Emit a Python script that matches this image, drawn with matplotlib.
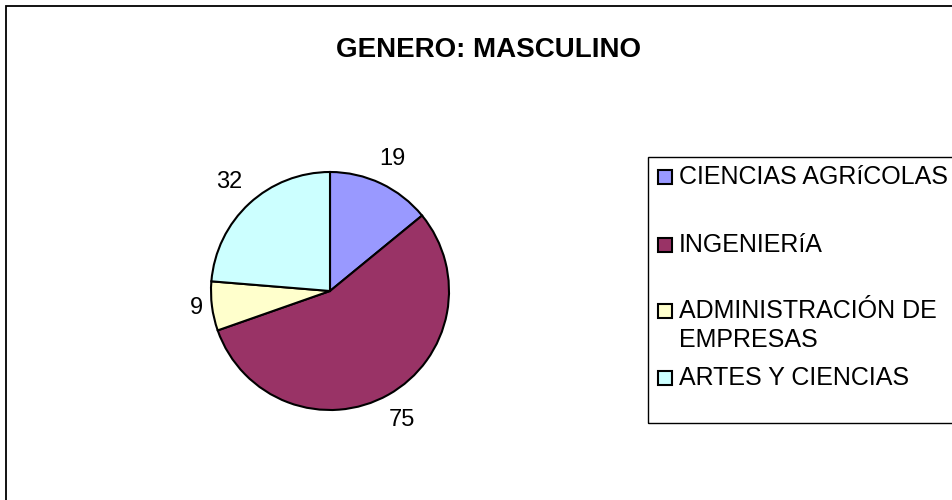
import numpy as np
import matplotlib.pyplot as plt
from matplotlib.patches import Rectangle

plt.rcParams['font.family'] = ['Liberation Sans', 'DejaVu Sans']

# data
title = 'GENERO: MASCULINO'
categories = ['CIENCIAS AGRíCOLAS', 'INGENIERíA', 'ADMINISTRACIÓN DE\nEMPRESAS', 'ARTES Y CIENCIAS']
values = [19, 75, 9, 32]
colors = ['#9999FF', '#993366', '#FFFFCC', '#CCFFFF']

W, H = 953, 500
fig = plt.figure(figsize=(W / 100, H / 100), dpi=100)


def fx(x):
    return x / W


def fy(y):
    return 1 - y / H


# outer chart frame (cut off at right and bottom)
fig.patches.append(Rectangle((fx(6), fy(510)), fx(970) - fx(6), fy(6) - fy(510),
                             transform=fig.transFigure, fill=False, lw=1.3, ec='black'))

fig.text(fx(489), fy(50), title, ha='center', va='center', fontsize=20, fontweight='bold')

# pie
cx, cy, R = 330, 291, 119
ax = fig.add_axes([fx(cx - 1.5 * R), fy(cy + 1.5 * R), 3 * R / W, 3 * R / H])
wedges, _ = ax.pie(values, colors=colors, startangle=90, counterclock=False,
                   wedgeprops=dict(edgecolor='black', linewidth=1.5))
ax.set_xlim(-1.5, 1.5)
ax.set_ylim(-1.5, 1.5)
ax.axis('off')

label_dist = [1.23, 1.24, 1.13, 1.25]
for w, v, d in zip(wedges, values, label_dist):
    ang = np.deg2rad((w.theta1 + w.theta2) / 2)
    ax.text(d * np.cos(ang), d * np.sin(ang), str(v), ha='center', va='center', fontsize=17)

# legend box
fig.patches.append(Rectangle((fx(648), fy(423)), fx(970) - fx(648), fy(157) - fy(423),
                             transform=fig.transFigure, fill=False, lw=1.0, ec='black'))
entry_y = [177, 244.5, 311, 378]
for lab, c, y in zip(categories, colors, entry_y):
    fig.patches.append(Rectangle((fx(658), fy(y + 7)), 14 / W, 14 / H,
                                 transform=fig.transFigure, fc=c, ec='black', lw=1.5))
    fig.text(fx(679), fy(y - 12), lab, ha='left', va='top', fontsize=18, linespacing=1.25)

fig.savefig('out.png', dpi=100)
